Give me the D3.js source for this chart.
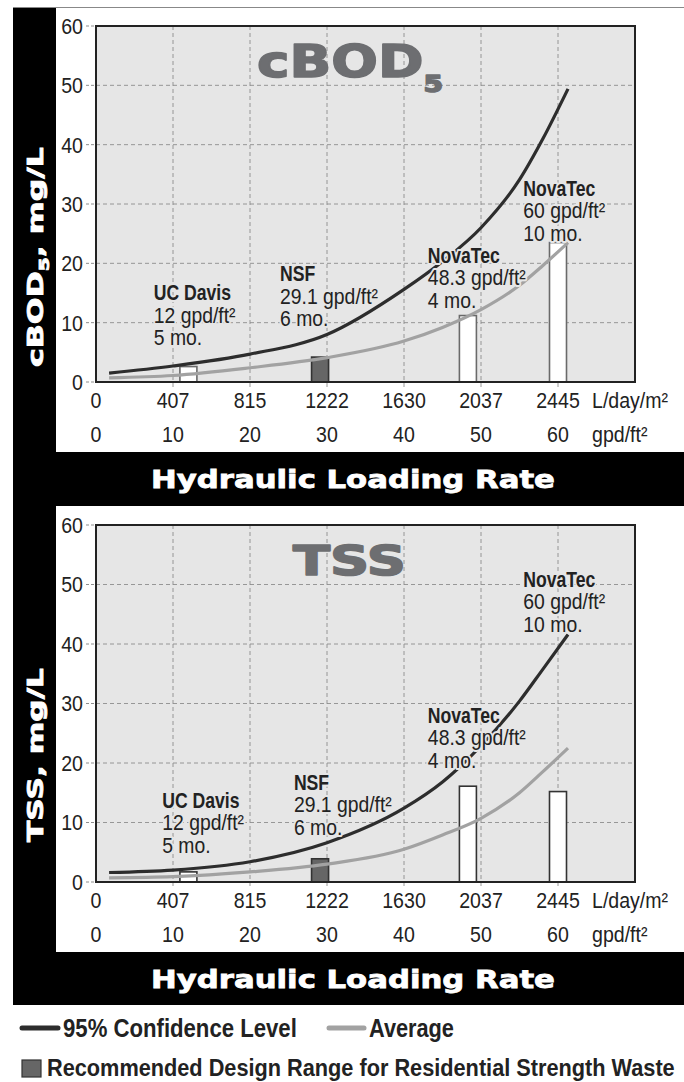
<!DOCTYPE html>
<html><head><meta charset="utf-8">
<script src="https://cdn.jsdelivr.net/npm/d3@7"></script>
<style>
body{margin:0;background:#fff;}
svg{display:block;}
.narrow{font-family:'Liberation Sans',Arial,sans-serif;}
.wide{font-family:'DejaVu Sans',sans-serif;font-weight:bold;}
</style></head><body>
<svg id="c" width="684" height="1082"></svg>
<script>
// ---------- data ----------
const gpdTicks = [0, 10, 20, 30, 40, 50, 60];
const metricTicks = ["0", "407", "815", "1222", "1630", "2037", "2445"];
const yTicks = [0, 10, 20, 30, 40, 50, 60];
const sites = ["UC Davis", "NSF", "NovaTec", "NovaTec"];
const siteRates = [12, 29.1, 48.3, 60];
const rateLabels = ["12 gpd/ft²", "29.1 gpd/ft²", "48.3 gpd/ft²", "60 gpd/ft²"];
const durations = ["5 mo.", "6 mo.", "4 mo.", "10 mo."];
const recommended = [false, true, false, false];
const bodBars = [2.6, 4.2, 11.2, 23.5];
const tssBars = [1.7, 3.9, 16.1, 15.2];
const curveRates = [1.7, 10, 20, 30, 40, 45, 50, 55, 58, 61.3];
const bod95 = [1.5, 2.7, 4.7, 8.0, 15.6, 20.3, 26.0, 34.1, 40.9, 49.4];
const bodAvg = [0.7, 1.1, 2.4, 4.1, 6.9, 9.2, 12.2, 16.3, 19.6, 23.5];
const tss95 = [1.6, 2.0, 3.4, 6.6, 12.4, 16.8, 22.9, 30.4, 35.7, 41.6];
const tssAvg = [0.7, 0.9, 1.7, 3.0, 5.5, 7.9, 10.7, 15.0, 18.5, 22.5];

// ---------- layout ----------
const svg = d3.select("#c");
const C95 = "#2d2d2d", CAVG = "#a2a2a2", PLOTBG = "#e6e6e6", TITLEGRAY = "#6d6e71";
const TICK_SX = 0.89, REG_SX = 0.88, BOLD_SX = 0.8;
const x = d3.scaleLinear().domain([0, 70]).range([96, 635]);

function fit(sel, target) {
  const w = sel.node().getComputedTextLength();
  return target / w;
}
function tr(px, py, sx) { return `translate(${px},${py}) scale(${sx},1)`; }

// black frame
svg.append("rect").attr("x", 13).attr("y", 7).attr("width", 671).attr("height", 998).attr("fill", "#000");
svg.append("line").attr("x1", 13).attr("x2", 684).attr("y1", 7.5).attr("y2", 7.5).attr("stroke", "#888").attr("stroke-width", 1);

const charts = [
  {panelTop: 8, panelBottom: 452, y0: 382, y1: 26, bars: bodBars, c95: bod95, cAvg: bodAvg,
   title: "cBOD", sub: "5", titleX: 257, titleBase: 77, titleW: 186, titleSize: 45, subSize: 23,
   yTitle: ["cBOD", "5", ", mg/L"], yTitleCenter: 257, yTitleLen: 220, bandBase: 488,
   barStroke: "#6a6a6a",
   labelAt: [[7.5, 13.8], [23.9, 17.0], [43.1, 20.1], [55.5, 31.4]]},
  {panelTop: 506, panelBottom: 952, y0: 882, y1: 525, bars: tssBars, c95: tss95, cAvg: tssAvg,
   title: "TSS", sub: null, titleX: 293, titleBase: 575, titleW: 113, titleSize: 41, subSize: 0,
   yTitle: ["TSS, mg/L"], yTitleCenter: 755, yTitleLen: 174, bandBase: 988,
   barStroke: "#333",
   labelAt: [[8.6, 12.5], [25.7, 15.5], [43.1, 26.8], [55.5, 49.6]]}
];

charts.forEach(cfg => {
  const y = d3.scaleLinear().domain([0, 60]).range([cfg.y0, cfg.y1]);
  const g = svg.append("g");
  // white panel
  g.append("rect").attr("x", 56).attr("y", cfg.panelTop).attr("width", 628)
    .attr("height", cfg.panelBottom - cfg.panelTop).attr("fill", "#fff");
  // plot bg
  g.append("rect").attr("x", x(0)).attr("y", y(60)).attr("width", x(70) - x(0))
    .attr("height", y(0) - y(60)).attr("fill", PLOTBG);
  // grid
  g.selectAll(".hg").data(yTicks.filter(d => d > 0 && d < 60)).join("line")
    .attr("x1", x(0)).attr("x2", x(70)).attr("y1", d => y(d)).attr("y2", d => y(d))
    .attr("stroke", "#8d8d8d").attr("stroke-width", 0.9).attr("stroke-dasharray", "4,3");
  g.selectAll(".vg").data(gpdTicks.filter(d => d > 0)).join("line")
    .attr("x1", d => x(d)).attr("x2", d => x(d)).attr("y1", y(60)).attr("y2", y(0) + 5)
    .attr("stroke", "#8d8d8d").attr("stroke-width", 0.9).attr("stroke-dasharray", "4,3");
  // y ticks
  g.selectAll(".yt").data(yTicks).join("line")
    .attr("x1", 86).attr("x2", x(0)).attr("y1", d => y(d)).attr("y2", d => y(d))
    .attr("stroke", "#8d8d8d").attr("stroke-width", 1).attr("stroke-dasharray", "3,2");
  g.selectAll(".yl").data(yTicks).join("text").attr("class", "narrow")
    .attr("transform", d => tr(83, y(d), TICK_SX)).attr("dy", "0.36em").attr("text-anchor", "end")
    .attr("font-size", 22).attr("fill", "#222").text(d => d);
  // x labels
  g.selectAll(".xl1").data(metricTicks).join("text").attr("class", "narrow")
    .attr("transform", (d, i) => tr(x(gpdTicks[i]), cfg.y0 + 26, TICK_SX)).attr("text-anchor", "middle")
    .attr("font-size", 22).attr("fill", "#222").text(d => d);
  g.selectAll(".xl2").data(gpdTicks).join("text").attr("class", "narrow")
    .attr("transform", d => tr(x(d), cfg.y0 + 60, TICK_SX)).attr("text-anchor", "middle")
    .attr("font-size", 22).attr("fill", "#222").text(d => d);
  g.append("text").attr("class", "narrow").attr("transform", tr(592, cfg.y0 + 26, TICK_SX))
    .attr("font-size", 22).attr("fill", "#222").text("L/day/m²");
  g.append("text").attr("class", "narrow").attr("transform", tr(592, cfg.y0 + 60, TICK_SX))
    .attr("font-size", 22).attr("fill", "#222").text("gpd/ft²");
  // title
  const t = g.append("text").attr("class", "wide").attr("fill", TITLEGRAY)
    .attr("stroke", TITLEGRAY).attr("stroke-width", 1.6).attr("stroke-linejoin", "round")
    .attr("font-size", cfg.titleSize);
  t.append("tspan").text(cfg.title);
  if (cfg.sub) t.append("tspan").attr("font-size", cfg.subSize).attr("dy", 15).text(cfg.sub);
  const ts = fit(t, cfg.titleW);
  t.attr("transform", `translate(${cfg.titleX},${cfg.titleBase}) scale(${ts},1)`);
  // bars
  const bw = 17;
  g.selectAll(".bar").data(cfg.bars).join("rect")
    .attr("x", (d, i) => x(siteRates[i]) - bw / 2).attr("width", bw)
    .attr("y", d => y(d)).attr("height", d => y(0) - y(d))
    .attr("fill", (d, i) => recommended[i] ? "#666" : "#fff")
    .attr("stroke", (d, i) => recommended[i] ? "#333" : cfg.barStroke).attr("stroke-width", 1.6);
  // curves
  const line = d3.line().x((d, i) => x(curveRates[i])).y(d => y(d)).curve(d3.curveMonotoneX);
  g.append("path").attr("d", line(cfg.cAvg)).attr("fill", "none").attr("stroke", CAVG).attr("stroke-width", 3.2);
  g.append("path").attr("d", line(cfg.c95)).attr("fill", "none").attr("stroke", C95).attr("stroke-width", 3.2);
  // axis frame
  g.append("rect").attr("x", x(0)).attr("y", y(60)).attr("width", x(70) - x(0))
    .attr("height", y(0) - y(60)).attr("fill", "none").attr("stroke", "#222").attr("stroke-width", 2);
  // labels
  sites.forEach((s, i) => {
    const [lx, ly] = cfg.labelAt[i];
    const lines = [[s, "bold", BOLD_SX], [rateLabels[i], "normal", REG_SX], [durations[i], "normal", REG_SX]];
    lines.forEach((ln, j) => {
      g.append("text").attr("class", "narrow").attr("transform", tr(x(lx), y(ly) + j * 22.5, ln[2]))
        .attr("font-size", 22).attr("font-weight", ln[1]).attr("fill", "#222")
        .attr("stroke", PLOTBG).attr("stroke-width", 4).attr("stroke-linejoin", "round")
        .attr("paint-order", "stroke").text(ln[0]);
    });
  });
  // y axis title
  const yt = g.append("text").attr("class", "wide").attr("fill", "#fff").attr("font-size", 22)
    .attr("stroke", "#fff").attr("stroke-width", 0.8).attr("text-anchor", "middle");
  if (cfg.yTitle.length === 3) {
    yt.append("tspan").text(cfg.yTitle[0]);
    yt.append("tspan").attr("font-size", 14).attr("dy", 6).text(cfg.yTitle[1]);
    yt.append("tspan").attr("dy", -6).text(cfg.yTitle[2]);
  } else yt.text(cfg.yTitle[0]);
  const ys = fit(yt, cfg.yTitleLen);
  yt.attr("transform", `translate(43,${cfg.yTitleCenter}) rotate(-90) scale(${ys},1)`);
  // band title
  const bt = svg.append("text").attr("class", "wide").attr("fill", "#fff").attr("font-size", 25)
    .attr("stroke", "#fff").attr("stroke-width", 0.8)
    .attr("text-anchor", "middle").text("Hydraulic Loading Rate");
  const bs = fit(bt, 404);
  bt.attr("transform", `translate(353,${cfg.bandBase}) scale(${bs},1)`);
});

// ---------- legend ----------
const lg = svg.append("g");
lg.append("line").attr("x1", 22).attr("x2", 58).attr("y1", 1028).attr("y2", 1028)
  .attr("stroke", C95).attr("stroke-width", 5).attr("stroke-linecap", "round");
lg.append("line").attr("x1", 329).attr("x2", 364).attr("y1", 1028).attr("y2", 1028)
  .attr("stroke", CAVG).attr("stroke-width", 5).attr("stroke-linecap", "round");
function legText(str, x0, base, w, size) {
  const t = lg.append("text").attr("class", "narrow").attr("font-weight", "bold")
    .attr("font-size", size).attr("fill", "#222").text(str);
  const s = fit(t, w);
  t.attr("transform", `translate(${x0},${base}) scale(${s},1)`);
}
legText("95% Confidence Level", 63, 1037, 234, 26.5);
legText("Average", 369, 1037, 85, 26.5);
lg.append("rect").attr("x", 22).attr("y", 1060).attr("width", 19).attr("height", 17)
  .attr("fill", "#666").attr("stroke", "#333").attr("stroke-width", 1.2);
legText("Recommended Design Range for Residential Strength Waste", 47, 1076, 628, 24.5);
</script>
</body></html>
